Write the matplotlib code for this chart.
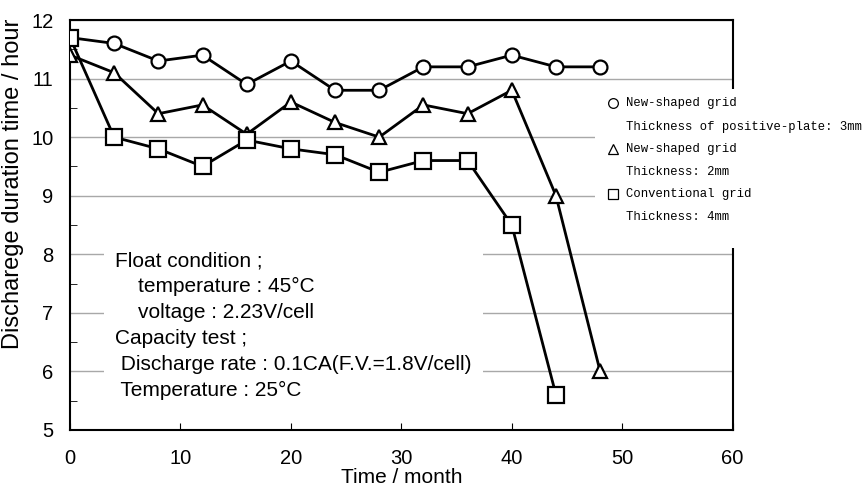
import matplotlib
matplotlib.use("Agg")
import matplotlib.pyplot as plt

months = [0, 4, 8, 12, 16, 20, 24, 28, 32, 36, 40, 44, 48]
new_3mm = [11.7, 11.6, 11.3, 11.4, 10.9, 11.3, 10.8, 10.8, 11.2, 11.2, 11.4, 11.2, 11.2]
new_2mm = [11.4, 11.1, 10.4, 10.55, 10.05, 10.6, 10.25, 10.0, 10.55, 10.4, 10.8, 9.0, 6.0]
conv_months = [0, 4, 8, 12, 16, 20, 24, 28, 32, 36, 40, 44]
conv_4mm = [11.7, 10.0, 9.8, 9.5, 9.95, 9.8, 9.7, 9.4, 9.6, 9.6, 8.5, 5.6]

legend_lines = [
    ("o", "New-shaped grid"), (None, "Thickness of positive-plate: 3mm"),
    ("^", "New-shaped grid"), (None, "Thickness: 2mm"),
    ("s", "Conventional grid"), (None, "Thickness: 4mm"),
]
note = ("Float condition ;\n"
        "    temperature : 45°C\n"
        "    voltage : 2.23V/cell\n"
        "Capacity test ;\n"
        " Discharge rate : 0.1CA(F.V.=1.8V/cell)\n"
        " Temperature : 25°C")

plt.rcParams["font.family"] = ["Liberation Sans", "DejaVu Sans"]
fig = plt.figure(figsize=(8.64, 4.88), dpi=100)
ax = fig.add_axes([0.081, 0.119, 0.767, 0.840])

style = dict(color="black", lw=2, mfc="white", mec="black", mew=1.6, zorder=3)
ax.plot(months, new_3mm, marker="o", ms=10, **style)
ax.plot(months, new_2mm, marker="^", ms=10, **style)
ax.plot(conv_months, conv_4mm, marker="s", ms=11, **style)

ax.set_xlim(0, 60)
ax.set_ylim(5, 12)
ax.set_xticks(range(0, 61, 10))
ax.set_yticks(range(5, 13))
ax.set_yticks([y + 0.5 for y in range(5, 12)], minor=True)
ax.grid(True, axis="y", which="major", color="#a8a8a8", lw=1)
ax.tick_params(axis="both", which="both", direction="in", labelsize=14.5, length=5)
ax.tick_params(axis="x", pad=14)
ax.tick_params(axis="y", pad=12, length=0)
ax.tick_params(axis="y", which="minor", length=5)
for s in ax.spines.values():
    s.set_linewidth(1.5)

ax.set_xlabel("Time / month", fontsize=15)
ax.xaxis.set_label_coords(0.5, -0.092)
ax.set_ylabel("Discharege duration time / hour", fontsize=17)
ax.yaxis.set_label_coords(-0.07, 0.6)

ax.text(0.068, 0.435, note, transform=ax.transAxes, fontsize=15, va="top", ha="left",
        linespacing=1.45, zorder=4,
        bbox=dict(facecolor="white", edgecolor="none", pad=8))

# legend panel with white background, partly outside the axes
lax = fig.add_axes([595 / 864, 1 - 248 / 488, 269 / 864, 159 / 488])
lax.set_xlim(0, 1)
lax.set_ylim(0, 1)
lax.set_xticks([])
lax.set_yticks([])
for s in lax.spines.values():
    s.set_visible(False)
lax.set_facecolor("white")
row_y = [0.912, 0.761, 0.623, 0.478, 0.34, 0.195]
for (mk, label), y in zip(legend_lines, row_y):
    if mk:
        lax.plot([0.067], [y], marker=mk, ms=7, mfc="white", mec="black", mew=0.9, ls="none")
    lax.text(0.115, y, label, fontsize=8.8, family=["Liberation Mono", "DejaVu Sans Mono"],
             va="center", ha="left")

fig.savefig("out.png", dpi=100)
